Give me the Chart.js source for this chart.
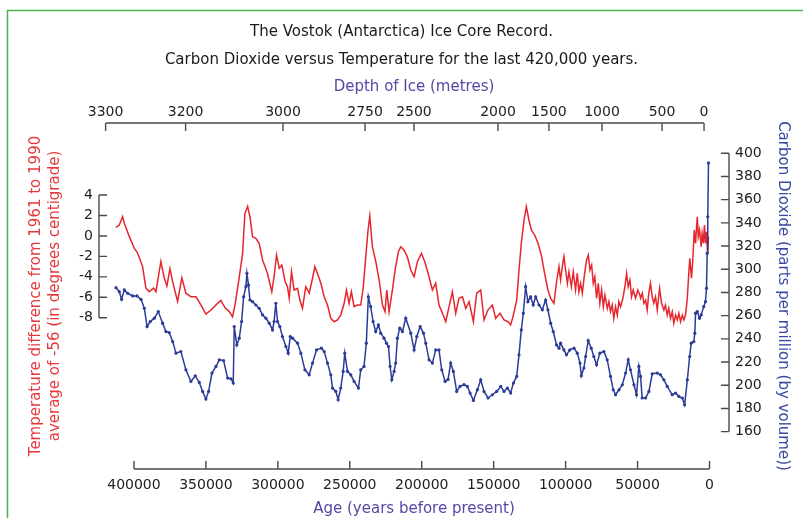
<!DOCTYPE html>
<html>
<head>
<meta charset="utf-8">
<title>Vostok Ice Core Record</title>
<script src="https://cdn.jsdelivr.net/npm/chart.js@4.4.1/dist/chart.umd.min.js"></script>
<style>
  html, body { margin: 0; padding: 0; background: #fff; }
  canvas { display: block; }
</style>
</head>
<body>
<canvas id="c" width="803" height="518"></canvas>
<script>
// ages in years before present
const tempAge = [412500, 410200, 407900, 406700, 403200, 399800, 397400, 394000, 391700, 389400, 386300, 384700, 381300, 379000, 377100, 375000, 373100, 369700, 366700, 363900, 360400, 356900, 353500, 350000, 346500, 341900, 339600, 336800, 333800, 331500, 329600, 326800, 324500, 322900, 321000, 319400, 317600,
  315300, 313000, 310600, 307200, 304200, 302600, 300900, 299000, 297200, 294900, 293300, 292100, 290500, 288700, 286300, 284700, 282900, 280600, 278200, 275900, 274300, 272500, 270100, 267800, 265500, 263200, 260900, 258600, 256300, 253900, 252300, 250500, 248900, 247000, 244700, 242400, 240700, 238900, 237300, 236100, 234300, 231900, 229600, 227300, 225500, 224300, 222700, 220400, 218500, 216200, 214600, 212300, 210000,
  207600, 205300, 203000, 200200, 197900, 194900, 192600, 190300, 188000, 185600, 183300, 181000, 178700, 176400, 174100, 171700, 169400, 167100, 164100, 161800, 159000, 156700, 154000, 150900, 148600, 145600, 142800, 140000, 138200, 136300, 134000, 132400, 130800, 128900, 127300, 125500, 123800, 121500, 119200, 116900, 114600, 112300, 110400, 108100, 106300, 104600,
  103500, 102300, 101200, 100000, 98800, 97700, 96000, 94700, 93100, 91900, 90800, 89600, 88400, 86800, 85400, 84200, 83100, 81900, 80800, 79700, 78500, 77300, 76200, 75000, 73800, 72700, 71000, 69900, 68800, 67600, 66500, 65300, 64100, 63000, 61800, 60200, 58800, 57600, 56500, 55300, 54200, 53000, 51400, 49800, 48400,
  47900, 46700, 45600, 44400, 43300, 42200, 41000, 39800, 38700, 37500, 36300, 34700, 33300, 31700, 30600, 29400, 28300, 27100, 25900, 24800, 23600, 22400, 21300, 20100, 18900, 17800, 16700, 15500, 14400, 13700, 12500, 11600, 10600, 9700, 8500, 7800, 6900, 5800, 5100, 4200, 3500, 2800, 2100, 1400, 700];
const tempDiff = [0.85, 1.07, 1.88, 1.24, -0.07, -1.2, -1.7, -3.0, -5.1, -5.45, -5.1, -5.45, -2.5, -4.1, -4.9, -3.2, -4.5, -6.4, -4.1, -5.6, -5.95, -5.95, -6.75, -7.64, -7.25, -6.6, -6.3, -7.0, -7.4, -7.9, -6.6, -4.0, -1.7, 2.2, 2.9, 1.88, -0.07,
  -0.23, -0.72, -2.35, -3.66, -5.46, -3.99, -1.86, -3.17, -2.84, -4.48, -4.97, -6.1, -3.5, -5.29, -5.12, -6.27, -7.08, -4.97, -5.6, -4.14, -3.01, -3.66, -4.63, -5.95, -6.76, -8.06, -8.39, -8.22, -7.74, -6.59, -5.29, -6.59, -5.46, -6.92, -6.76, -6.76, -5.12, -2.03, 0.58, 1.95, -1.05, -2.52, -4.31, -6.76, -7.41, -5.29, -7.41, -5.29, -3.33, -1.54, -1.05, -1.38, -2.03,
  -3.33, -3.99, -2.52, -1.7, -2.52, -3.99, -5.29, -4.63, -6.76, -7.57, -8.39, -6.92, -5.46, -7.57, -6.1, -5.95, -7.08, -6.43, -8.39, -5.6, -5.29, -8.22, -7.25, -6.76, -8.06, -7.57, -8.22, -8.39, -8.71, -7.74, -6.27, -3.33, -0.72, 1.56, 2.86, 1.56, 0.58, 0.09, -0.72, -1.86, -3.66, -5.29, -6.1, -6.59, -4.48, -3.01,
  -4.31, -3.01, -2.03, -3.33, -4.63, -3.5, -4.97, -3.5, -5.29, -3.66, -5.46, -4.63, -5.6, -3.66, -2.35, -1.86, -3.33, -2.84, -4.63, -3.99, -6.1, -4.63, -6.59, -5.29, -6.92, -5.78, -7.08, -6.43, -7.41, -6.76, -8.06, -6.92, -7.74, -6.43, -6.92, -6.1, -4.97, -3.66, -4.97, -4.31, -5.95, -5.29, -6.1, -5.29, -5.78,
  -6.1, -5.6, -6.59, -6.27, -7.25, -5.6, -4.63, -5.95, -6.59, -5.95, -7.25, -5.12, -6.59, -7.25, -6.76, -7.74, -7.08, -8.06, -7.41, -8.55, -7.74, -8.22, -7.57, -8.39, -7.74, -8.22, -7.74, -6.27, -3.66, -2.19, -4.14, -2.35, 0.58, -0.72, 1.88, -0.07, 0.58, -1.05, 0.26, -0.72, 1.07, -0.72, 0.41, -1.7, -0.07];

const co2Age = [412500, 410200, 408600, 406700, 404400, 400900, 397900, 395100, 392800, 390900, 388700, 385900, 383100, 380100, 377800, 375500, 373100, 370800, 367400, 363900, 360400, 357400, 354600, 352300, 350000, 348100, 345800, 343000, 340700, 337700, 334900, 332600, 331000, 330300, 328500, 326800, 325200, 323800, 322200, 321500, 320400, 319400, 317600,
  315300, 313000, 310600, 308300, 306000, 303700, 302600, 301400, 300200, 298600, 296800, 294400, 292800, 291400, 289800, 286300, 284000, 281200, 278200, 275900, 273100, 269700, 267800, 265500, 263200, 262000, 259700, 258100, 256300, 254600, 253500, 251600, 249300, 247000, 244000, 242400, 240100, 238500, 237100, 235500, 233800, 232000, 230100, 228500, 226200, 224500, 223100, 222000, 220800, 219200, 218100, 216900, 215300, 213400, 211100,
  207600, 205300, 203400, 201100, 198800, 197200, 194900, 192600, 190300, 188000, 186100, 183800, 181700, 179900, 178000, 175700, 173400, 170600, 168300, 166400, 164100, 161300, 159000, 156700, 153900, 150900, 147900, 145100, 142800, 140500, 138200, 136300, 134000, 132400, 130800, 129400, 127800, 126200, 124300, 122500, 120800, 118500, 116200, 113900, 112300, 110400, 108600, 106300, 104600,
  103500, 101200, 99400, 97100, 94200, 91900, 90000, 89100, 87300, 86100, 84300, 82200, 80400, 78500, 76200, 73400, 71100, 68800, 66900, 65300, 62900, 60600, 58300, 56500, 54900, 52500, 50700, 49100, 47900, 46800, 44400, 42100, 39800, 36300, 34000, 31700, 29400, 25900, 23600, 21300, 18900, 17300, 15400, 13800, 12700, 10900, 10200, 9700, 8500, 6900, 5800, 4000, 2800, 2100, 1600, 1200, 700];
const co2Ppm = [284.1, 280.7, 274.1, 282.2, 279.3, 277, 277, 274.1, 266.4, 250.6, 254.9, 257.8, 263.5, 253.5, 246.3, 245.4, 237.7, 227.7, 229.1, 213.3, 203.3, 208.2, 202.4, 194.7, 188.1, 194.7, 210.5, 216.2, 221.9, 221.3, 206.2, 205.6, 201.9, 250.6, 234.8, 240.6, 254.9, 276.3, 285, 296.5, 286.5, 273.5, 272.1,
  269.2, 266.4, 260.6, 257.8, 253.5, 247.7, 254.9, 270.7, 254.9, 250.6, 242, 233.4, 227.7, 242, 240.6, 236.3, 227.7, 213.3, 209, 219.1, 230.5, 232, 229.1, 219.1, 209, 197.6, 194.7, 187.5, 197.6, 211.9, 227.7, 211.9, 209, 203.3, 197.6, 213.3, 216.2, 236.3, 276.3, 267.8, 254.9, 246.3, 252, 244.9, 240.6, 236.3, 233.4, 216.2, 204.7, 211.9, 219.1, 240.6, 249.2, 246.3, 257.8,
  244.9, 230.5, 242, 250.6, 244.9, 236.3, 221.9, 219.1, 230.5, 230.5, 213.3, 203.3, 205, 219.1, 211.9, 194.7, 199, 200.5, 199, 193.3, 186.9, 196.2, 204.7, 194.7, 189, 191.8, 194.7, 199, 194.7, 197.6, 193.3, 201.9, 207.6, 226.2, 247.7, 262.1, 285, 272.1, 276.3, 269.2, 276.3, 269.2, 265, 273.5, 265, 253.5, 246.3, 234.8, 232,
  236.3, 230.5, 226.2, 230.5, 232, 227.7, 219.1, 208.2, 214.8, 224.8, 238.5, 232, 224.8, 217.6, 227.7, 229.1, 221.9, 207.6, 196.1, 191.8, 196.1, 200.4, 210.5, 221.9, 213.3, 200.4, 191.8, 216.2, 207.6, 189, 189, 194.7, 209.9, 210.5, 209, 204.7, 199, 191.8, 193.3, 190.4, 189, 183.2, 204.7, 224.8, 236.3, 237.7, 244.9, 262.1, 263.5, 257.8, 260.6, 267.8, 272.1, 283.6, 313.7, 345.2, 391.7];

const ageTicks = [400000, 350000, 300000, 250000, 200000, 150000, 100000, 50000, 0];
const depthLabels = ['3300', '3200', '3000', '2750', '2500', '2000', '1500', '1000', '500', '0'];
const depthTickAge = [419700, 364100, 296400, 239400, 205400, 147000, 111600, 74700, 33000, 3800];
const tempTicks = [4, 2, 0, -2, -4, -6, -8];
const co2Ticks = [400, 380, 360, 340, 320, 300, 280, 260, 240, 220, 200, 180, 160];

const FONT = 'DejaVu Sans';
const tickFont = { family: FONT, size: 14 };
const tickColor = '#222';

// green frame round the picture
const frame = {
  id: 'frame',
  beforeDraw(chart) {
    const ctx = chart.ctx;
    ctx.save();
    ctx.strokeStyle = '#47b54c';
    ctx.lineWidth = 1.5;
    ctx.beginPath();
    ctx.moveTo(7.5, 518);
    ctx.lineTo(7.5, 10.5);
    ctx.lineTo(803, 10.5);
    ctx.stroke();
    ctx.restore();
  }
};

// axis lines between first and last tick, tick marks pointing inward
const axisLines = {
  id: 'axisLines',
  afterDraw(chart) {
    const { ctx, chartArea: a, scales } = chart;
    const len = 8;
    ctx.save();
    ctx.strokeStyle = '#4a4a4a';
    ctx.lineWidth = 1.4;
    const horiz = (s, y, dir) => {
      const px = s.ticks.map(t => s.getPixelForValue(t.value));
      ctx.beginPath();
      ctx.moveTo(Math.min(...px), y);
      ctx.lineTo(Math.max(...px), y);
      px.forEach(p => { ctx.moveTo(p, y); ctx.lineTo(p, y + dir * len); });
      ctx.stroke();
    };
    const vert = (s, x, dir) => {
      const py = s.ticks.map(t => s.getPixelForValue(t.value));
      ctx.beginPath();
      ctx.moveTo(x, Math.min(...py));
      ctx.lineTo(x, Math.max(...py));
      py.forEach(p => { ctx.moveTo(x, p); ctx.lineTo(x + dir * len, p); });
      ctx.stroke();
    };
    horiz(scales.x, a.bottom, -1);
    horiz(scales.x2, a.top, 1);
    vert(scales.y, a.left, 1);
    vert(scales.y2, a.right, -1);
    ctx.restore();
  }
};

const hidden = { grid: { display: false, drawTicks: false }, border: { display: false } };

new Chart(document.getElementById('c'), {
  type: 'line',
  data: {
    datasets: [
      {
        label: 'Carbon Dioxide',
        data: co2Age.map((a, i) => ({ x: a, y: co2Ppm[i] })),
        xAxisID: 'x',
        yAxisID: 'y2',
        borderColor: '#2b3b98',
        backgroundColor: '#2b3b98',
        borderWidth: 1.5,
        pointRadius: 1.6,
        pointBorderWidth: 0,
        tension: 0
      },
      {
        label: 'Temperature',
        data: tempAge.map((a, i) => ({ x: a, y: tempDiff[i] })),
        xAxisID: 'x',
        yAxisID: 'y',
        borderColor: '#e6262c',
        borderWidth: 1.5,
        pointRadius: 0,
        tension: 0
      }
    ]
  },
  options: {
    responsive: false,
    devicePixelRatio: 1,
    animation: false,
    events: [],
    layout: { padding: 0 },
    plugins: {
      legend: { display: false },
      tooltip: { enabled: false },
      title: {
        display: true,
        text: ['The Vostok (Antarctica) Ice Core Record.', 'Carbon Dioxide versus Temperature for the last 420,000 years.'],
        color: '#1a1a1a',
        font: { family: FONT, size: 15, weight: 'normal', lineHeight: 28 / 15 },
        padding: { top: 18, bottom: 1 }
      }
    },
    scales: {
      x: {
        type: 'linear', axis: 'x', position: 'bottom', reverse: true,
        min: -13550, max: 424300,
        afterBuildTicks: s => { s.ticks = ageTicks.map(v => ({ value: v })); },
        afterFit: s => { s.height = 49; },
        ...hidden,
        ticks: { autoSkip: false, maxRotation: 0, padding: 8, color: tickColor, font: tickFont, callback: v => String(v) },
        title: { display: true, text: 'Age (years before present)', color: '#5647a6', font: { family: FONT, size: 15 }, padding: { top: 0, bottom: 0 } }
      },
      x2: {
        type: 'linear', axis: 'x', position: 'top', reverse: true,
        min: -13550, max: 424300,
        afterBuildTicks: s => { s.ticks = depthTickAge.map(v => ({ value: v })); },
        afterFit: s => { s.height = 48; },
        ...hidden,
        ticks: { autoSkip: false, maxRotation: 0, padding: 2, color: tickColor, font: tickFont, callback: (v, i) => depthLabels[i] },
        title: { display: true, text: 'Depth of Ice (metres)', color: '#5647a6', font: { family: FONT, size: 15 }, padding: { top: 3, bottom: 0 } }
      },
      y: {
        type: 'linear', axis: 'y', position: 'left',
        min: -22.8, max: 11.05,
        afterBuildTicks: s => { s.ticks = tempTicks.map(v => ({ value: v })); },
        afterFit: s => { s.width = 99; },
        ...hidden,
        ticks: { autoSkip: false, padding: 6, color: tickColor, font: tickFont },
        title: {
          display: true,
          text: ['Temperature difference from 1961 to 1990', 'average of -56 (in degrees centigrade)'],
          color: '#e5383b',
          font: { family: FONT, size: 15, lineHeight: 19 / 15 },
          padding: { top: 27, bottom: 0 }
        }
      },
      y2: {
        type: 'linear', axis: 'y', position: 'right',
        min: 127.8, max: 426.1,
        afterBuildTicks: s => { s.ticks = co2Ticks.map(v => ({ value: v })); },
        afterFit: s => { s.width = 74; },
        ...hidden,
        ticks: { autoSkip: false, padding: 6, color: tickColor, font: tickFont },
        title: { display: true, text: 'Carbon Dioxide (parts per million (by volume))', color: '#3a4aa3', font: { family: FONT, size: 15 }, padding: { top: 11, bottom: 0 } }
      }
    }
  },
  plugins: [frame, axisLines]
});
</script>
</body>
</html>
